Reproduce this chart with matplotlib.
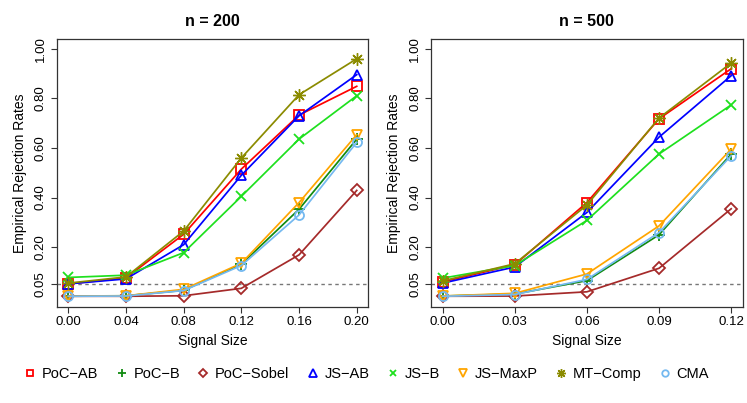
import numpy as np
import matplotlib
matplotlib.use("Agg")
import matplotlib.pyplot as plt
from matplotlib.lines import Line2D

plt.rcParams['font.family'] = ['Liberation Sans', 'DejaVu Sans']

# Data
methods = ["PoC\u2212AB", "PoC\u2212B", "PoC\u2212Sobel", "JS\u2212AB", "JS\u2212B",
           "JS\u2212MaxP", "MT\u2212Comp", "CMA"]

signal_200 = [0.00, 0.04, 0.08, 0.12, 0.16, 0.20]
rates_200 = {
    "PoC\u2212AB":    [0.052, 0.076, 0.252, 0.515, 0.733, 0.849],
    "PoC\u2212B":     [0.003, 0.004, 0.026, 0.131, 0.353, 0.636],
    "PoC\u2212Sobel": [0.002, 0.002, 0.004, 0.034, 0.169, 0.429],
    "JS\u2212AB":     [0.052, 0.072, 0.210, 0.490, 0.730, 0.896],
    "JS\u2212B":      [0.078, 0.087, 0.178, 0.405, 0.636, 0.811],
    "JS\u2212MaxP":   [0.002, 0.004, 0.030, 0.135, 0.380, 0.654],
    "MT\u2212Comp":   [0.055, 0.080, 0.265, 0.560, 0.815, 0.960],
    "CMA":            [0.002, 0.003, 0.025, 0.126, 0.330, 0.623],
}

signal_500 = [0.00, 0.03, 0.06, 0.09, 0.12]
rates_500 = {
    "PoC\u2212AB":    [0.060, 0.129, 0.380, 0.718, 0.920],
    "PoC\u2212B":     [0.003, 0.011, 0.065, 0.250, 0.576],
    "PoC\u2212Sobel": [0.002, 0.003, 0.020, 0.115, 0.355],
    "JS\u2212AB":     [0.055, 0.120, 0.340, 0.644, 0.892],
    "JS\u2212B":      [0.075, 0.126, 0.308, 0.576, 0.774],
    "JS\u2212MaxP":   [0.003, 0.014, 0.092, 0.286, 0.596],
    "MT\u2212Comp":   [0.064, 0.133, 0.370, 0.721, 0.943],
    "CMA":            [0.002, 0.009, 0.070, 0.259, 0.569],
}

y_ticks = [0.05, 0.20, 0.40, 0.60, 0.80, 1.00]

# styles (R-like pch symbols)
colors = {
    "PoC\u2212AB": "#FF0000", "PoC\u2212B": "#118B11", "PoC\u2212Sobel": "#A52A2A",
    "JS\u2212AB": "#0000FF", "JS\u2212B": "#1EE01E", "JS\u2212MaxP": "#FFA500",
    "MT\u2212Comp": "#8B8B00", "CMA": "#74B9F0",
}
markers = {
    "PoC\u2212AB": ("s", 6.5), "PoC\u2212B": ("+", 8), "PoC\u2212Sobel": ("D", 5.8),
    "JS\u2212AB": ("^", 7.5), "JS\u2212B": ("x", 6.5), "JS\u2212MaxP": ("v", 7.5),
    "MT\u2212Comp": ((8, 2, 0), 9), "CMA": ("o", 6.5),
}

fig = plt.figure(figsize=(7.47, 4.03), dpi=100)
ax1 = fig.add_axes([0.0759, 0.239, 0.4171, 0.6643])
ax2 = fig.add_axes([0.5770, 0.239, 0.4173, 0.6643])


def draw_panel(ax, xs, rates, title, xfmt):
    for m in methods:
        mk, ms = markers[m]
        mw = 1.0 if m == "MT\u2212Comp" else 1.3
        ax.plot(xs, rates[m], color=colors[m], lw=1.25, marker=mk, ms=ms,
                mfc='none', mec=colors[m], mew=mw)
    ax.axhline(0.05, color='#777777', lw=1.0, ls=(0, (2.5, 2.5)), zorder=0)
    pad = 0.04 * (xs[-1] - xs[0])
    ax.set_xlim(xs[0] - pad, xs[-1] + pad)
    ax.set_ylim(-0.04, 1.04)
    ax.set_xticks(xs)
    ax.set_xticklabels([xfmt % v for v in xs])
    ax.set_yticks(y_ticks)
    ax.set_yticklabels(["%.2f" % v for v in y_ticks], rotation=90, va='center')
    ax.tick_params(labelsize=9.5, length=4.5, width=0.8, color='#333333', pad=2.5)
    for sp in ax.spines.values():
        sp.set_color('#333333')
        sp.set_linewidth(0.9)
    ax.set_title(title, fontsize=11.5, fontweight='bold', pad=9)
    ax.set_xlabel("Signal Size", fontsize=10, labelpad=4)
    ax.set_ylabel("Empirical Rejection Rates", fontsize=10, labelpad=6)


draw_panel(ax1, signal_200, rates_200, "n = 200", "%.2f")
draw_panel(ax2, signal_500, rates_500, "n = 500", "%.2f")

handles = []
for m in methods:
    mk, ms = markers[m]
    mw = 1.0 if m == "MT\u2212Comp" else 1.3
    handles.append(Line2D([], [], ls='none', marker=mk, ms=ms * 0.72,
                          mfc='none', mec=colors[m], mew=mw, label=m))
fig.legend(handles=handles, loc='center', bbox_to_anchor=(0.491, 0.0712),
           ncol=8, frameon=False, fontsize=10.5, handlelength=0.8,
           handletextpad=0.4, columnspacing=1.2, borderaxespad=0)

fig.savefig("out.png", dpi=100, facecolor='white')
